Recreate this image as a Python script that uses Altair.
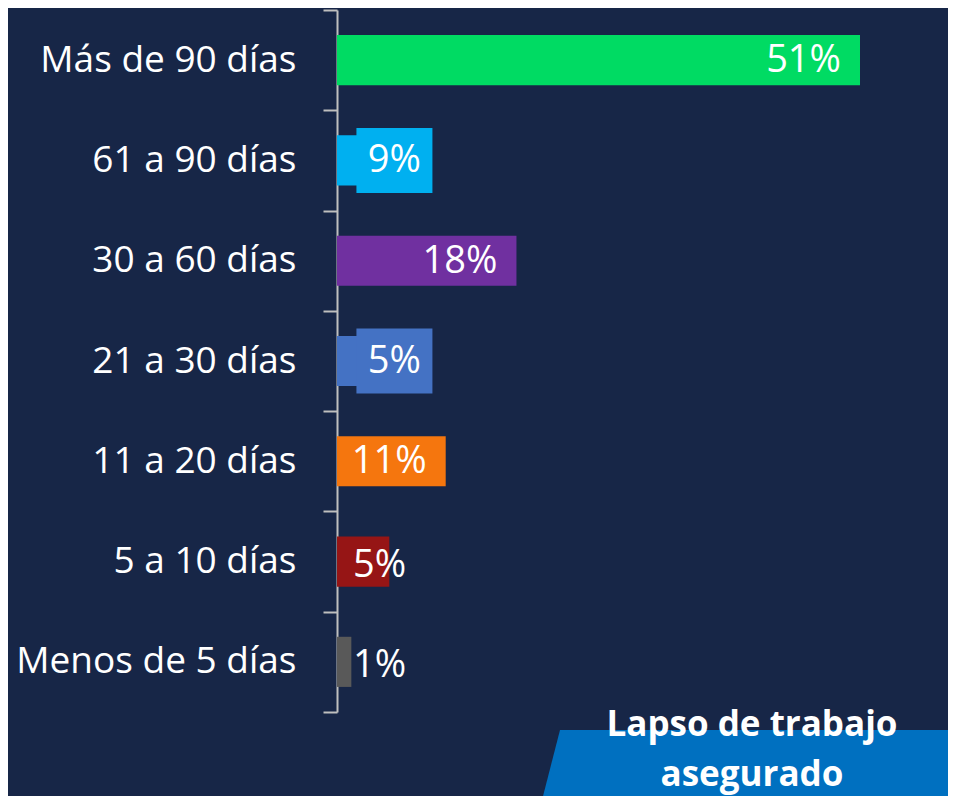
import altair as alt
import pandas as pd

categories = ["Más de 90 días", "61 a 90 días", "30 a 60 días", "21 a 30 días",
              "11 a 20 días", "5 a 10 días", "Menos de 5 días"]
values = [51.0, 9.0, 17.5, 5.0, 10.6, 5.1, 1.4]
labels = ["51%", "9%", "18%", "5%", "11%", "5%", "1%"]
colors = ["#00DB63", "#00B0F0", "#7030A0", "#4472C4", "#F5760E", "#961515", "#595959"]
callouts = ["61 a 90 días", "21 a 30 días"]
title_text = "Lapso de trabajo\nasegurado"

BG = "#172647"
FONT = "Open Sans"

df = pd.DataFrame({"cat": categories, "value": values, "label": labels, "color": colors})
df["kind"] = ["big" if v >= 10 else ("box" if c in callouts else "small")
              for c, v in zip(categories, values)]

yenc = alt.Y("cat:N", sort=categories,
             scale=alt.Scale(paddingInner=0, paddingOuter=0),
             axis=alt.Axis(title=None, tickBand="extent", domainColor="#BFBFBF",
                           domainWidth=2, tickColor="#BFBFBF", tickWidth=2, tickSize=14,
                           labelColor="white", labelFont=FONT, labelFontSize=37,
                           labelPadding=27, labelLimit=400))
ysimple = alt.Y("cat:N", sort=categories)
xenc = alt.X("value:Q", scale=alt.Scale(domain=[0, 51], nice=False, zero=True), axis=None)

base = alt.Chart(df)

bars = base.mark_bar(cornerRadius=0, height={"band": 0.5}).encode(
    x=xenc, y=yenc, color=alt.Color("color:N", scale=None))

boxes = base.transform_filter(alt.datum.kind == "box").transform_calculate(
    cx="5.6").mark_point(
    shape="M-1,-0.855 L1,-0.855 L1,0.855 L-1,0.855 Z", filled=True, opacity=1,
    strokeWidth=0, size=5776).encode(
    x=alt.X("cx:Q"), y=ysimple, color=alt.Color("color:N", scale=None))

txt_big = base.transform_filter(alt.datum.kind == "big").mark_text(
    align="right", baseline="middle", dx=-19, dy=1, font=FONT, fontSize=38,
    color="white").encode(x="value:Q", y=ysimple, text="label:N")

txt_box = base.transform_filter(alt.datum.kind == "box").transform_calculate(
    cx="5.6").mark_text(
    align="center", baseline="middle", dy=1, font=FONT, fontSize=38,
    color="white").encode(x="cx:Q", y=ysimple, text="label:N")

txt_small = base.transform_filter(alt.datum.kind == "small").transform_calculate(
    cx="0").mark_text(
    align="left", baseline="middle", dx=16, dy=4, font=FONT, fontSize=38,
    color="white").encode(x="cx:Q", y=ysimple, text="label:N")

banner = base.transform_filter(alt.datum.cat == categories[0]).mark_point(
    shape="M-1.88,-0.37 L2.1,-0.37 L2.0,0.37 L-2.07,0.37 Z", filled=True, opacity=1,
    strokeWidth=0, size=40000, color="#0070C0").encode(
    x=alt.value(411), y=alt.value(757))

banner_text = base.transform_filter(alt.datum.cat == categories[0]).mark_text(
    align="center", baseline="middle", font=FONT, fontSize=35, fontWeight="bold",
    color="white", lineBreak="\n", lineHeight=50).encode(
    x=alt.value(415), y=alt.value(715), text=alt.value(title_text))

chart = alt.layer(bars, boxes, txt_big, txt_box, txt_small, banner, banner_text).properties(
    width=523, height=702,
    padding={"left": 329, "top": 2, "right": 88, "bottom": 84},
    autosize=alt.AutoSizeParams(type="none"),
    background=BG,
).configure_view(stroke=None)

chart.save("out.html", embed_options={"renderer": "svg", "actions": False})
